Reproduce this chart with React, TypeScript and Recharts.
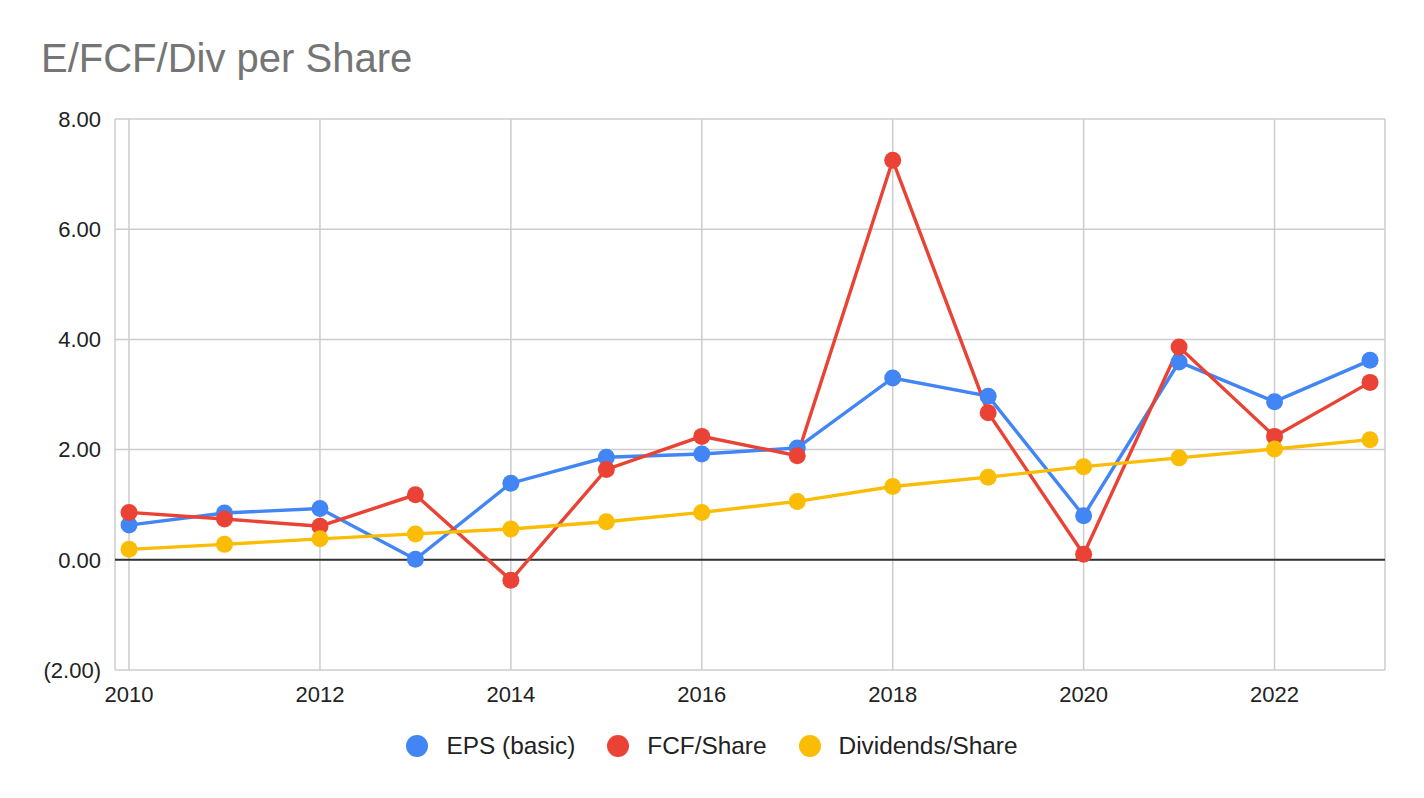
import React from 'react';
import { LineChart, Line, XAxis, YAxis, CartesianGrid, Legend, ReferenceLine } from 'recharts';

const years = [2010, 2011, 2012, 2013, 2014, 2015, 2016, 2017, 2018, 2019, 2020, 2021, 2022, 2023];
const epsBasic = [0.63, 0.85, 0.93, 0.01, 1.39, 1.86, 1.92, 2.03, 3.3, 2.97, 0.8, 3.59, 2.87, 3.62];
const fcfShare = [0.86, 0.74, 0.61, 1.18, -0.37, 1.64, 2.24, 1.89, 7.25, 2.67, 0.1, 3.86, 2.24, 3.22];
const divShare = [0.19, 0.28, 0.38, 0.47, 0.56, 0.69, 0.86, 1.06, 1.33, 1.5, 1.69, 1.85, 2.01, 2.18];
const xTicks = [2010, 2012, 2014, 2016, 2018, 2020, 2022];
const yTicks = [-2, 0, 2, 4, 6, 8];

const seriesInfo = [
  { key: 'eps', name: 'EPS (basic)', color: '#4285F4' },
  { key: 'fcf', name: 'FCF/Share', color: '#EA4335' },
  { key: 'div', name: 'Dividends/Share', color: '#FBBC04' },
];

const data = years.map((y, i) => ({ year: y, eps: epsBasic[i], fcf: fcfShare[i], div: divShare[i] }));

const FONT = '"Liberation Sans", Arial, sans-serif';

const fmtY = (v: number) => (v < 0 ? `(${Math.abs(v).toFixed(2)})` : v.toFixed(2));

const LegendContent = () => (
  <div style={{ display: 'flex', justifyContent: 'center', alignItems: 'center', fontFamily: FONT, fontSize: 24.4, color: '#222', height: 28 }}>
    {seriesInfo.map((s, i) => (
      <div key={s.key} style={{ display: 'flex', alignItems: 'center', marginLeft: i === 0 ? 0 : 32 }}>
        <span style={{ display: 'inline-block', width: 22, height: 22, borderRadius: 11, background: s.color, marginRight: 18 }} />
        <span>{s.name}</span>
      </div>
    ))}
  </div>
);

export default function App() {
  return (
    <div style={{ position: 'absolute', left: 0, top: 0, width: 1424, height: 798, background: '#fff', overflow: 'hidden' }}>
      <div style={{ position: 'absolute', left: 41, top: 38, fontFamily: FONT, fontSize: 40, lineHeight: '40px', color: '#757575', whiteSpace: 'nowrap' }}>
        E/FCF/Div per Share
      </div>
      <LineChart width={1424} height={798} data={data} margin={{ top: 119, right: 39, left: 0, bottom: 0 }}>
        <CartesianGrid stroke="#cccccc" strokeWidth={1.5} />
        <XAxis
          dataKey="year"
          type="number"
          domain={[2009.853, 2023.157]}
          ticks={xTicks}
          height={128}
          axisLine={false}
          tickLine={false}
          tickSize={6}
          tickMargin={10}
          tick={{ fill: '#222', fontSize: 22, fontFamily: FONT }}
          allowDataOverflow
        />
        <YAxis
          type="number"
          domain={[-2, 8]}
          ticks={yTicks}
          width={115}
          axisLine={false}
          tickLine={false}
          tickSize={6}
          tickMargin={8}
          tickFormatter={fmtY}
          tick={{ fill: '#222', fontSize: 22, fontFamily: FONT }}
        />
        <ReferenceLine y={0} stroke="#333333" strokeWidth={2} />
        {seriesInfo.map((s) => (
          <Line
            key={s.key}
            type="linear"
            dataKey={s.key}
            name={s.name}
            stroke={s.color}
            strokeWidth={3.4}
            dot={{ r: 8.5, fill: s.color, stroke: 'none' }}
            activeDot={false}
            isAnimationActive={false}
          />
        ))}
        <Legend
          verticalAlign="middle"
          align="center"
          layout="horizontal"
          content={LegendContent}
          wrapperStyle={{ position: 'absolute', top: 732, left: 0, width: 1424 }}
        />
      </LineChart>
    </div>
  );
}
